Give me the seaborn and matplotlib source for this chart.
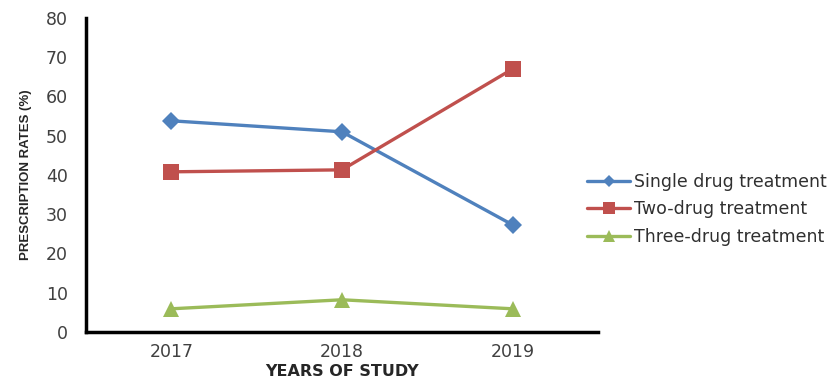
import matplotlib
matplotlib.use("Agg")
import matplotlib.pyplot as plt
import seaborn as sns
import pandas as pd

years = ["2017", "2018", "2019"]
single_drug = [53.8, 51.0, 27.3]
two_drug = [40.8, 41.3, 67.0]
three_drug = [5.9, 8.2, 5.9]
series_names = ["Single drug treatment", "Two-drug treatment", "Three-drug treatment"]
colors = ["#4F81BD", "#C0504D", "#9BBB59"]
markers = ["D", "s", "^"]

rows = []
for name, vals in zip(series_names, [single_drug, two_drug, three_drug]):
    for i, v in enumerate(vals):
        rows.append({"pos": i, "rate": v, "series": name})
df = pd.DataFrame(rows)

sns.set_style("white")
plt.rcParams["font.family"] = ["DejaVu Sans"]

fig = plt.figure(figsize=(8.35, 3.82), dpi=100)
ax = fig.add_axes([0.103, 0.131, 0.613, 0.822])

sns.lineplot(data=df, x="pos", y="rate", hue="series", style="series",
             palette=colors, markers=markers, dashes=False, linewidth=2.4,
             markersize=9, markeredgewidth=0, ax=ax, legend=True)
for line, ms in zip(ax.lines[:3], [9, 11, 12]):
    line.set_markersize(ms)

ax.set_xlim(-0.5, 2.5)
ax.set_ylim(0, 80)
ax.set_yticks(range(0, 81, 10))
ax.set_xticks([-0.5, 0.5, 1.5, 2.5])
ax.set_xticklabels([])
ax.set_xticks([0, 1, 2], minor=True)
ax.set_xticklabels(years, minor=True)
ax.tick_params(axis="x", which="minor", length=0, pad=8, labelsize=12.5, colors="#404040")
ax.tick_params(axis="x", which="major", direction="in", length=4, width=2, color="black")
ax.tick_params(axis="y", direction="out", length=7, width=2, color="black",
               labelsize=12.5, labelcolor="#404040", pad=6)

for side in ["top", "right"]:
    ax.spines[side].set_visible(False)
for side in ["left", "bottom"]:
    ax.spines[side].set_linewidth(2.5)
    ax.spines[side].set_color("black")

ax.set_xlabel("YEARS OF STUDY", fontsize=11.5, fontweight="bold", labelpad=2)
ax.set_ylabel("PRESCRIPTION RATES (%)", fontsize=9.5, fontweight="bold", labelpad=10,
              family=["Liberation Sans", "DejaVu Sans"])

handles, labels = ax.get_legend_handles_labels()
for h, ms in zip(handles, [6, 8, 8]):
    h.set_markersize(ms)
leg = ax.legend(handles, labels, loc="center left", bbox_to_anchor=(0.965, 0.39),
                frameon=False, fontsize=12.5, handlelength=2.5, handletextpad=0.2,
                labelspacing=0.55, borderaxespad=0)
for t in leg.get_texts():
    t.set_color("#303030")

fig.savefig("out.png", dpi=100)
